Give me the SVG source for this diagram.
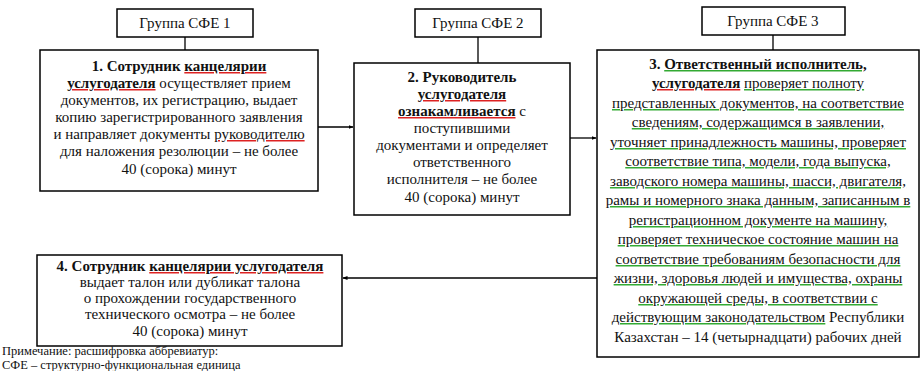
<svg xmlns="http://www.w3.org/2000/svg" width="923" height="371" viewBox="0 0 923 371">
<defs>
<marker id="ah" viewBox="0 0 10 10" refX="9" refY="5" markerWidth="5" markerHeight="5" orient="auto-start-reverse" markerUnits="userSpaceOnUse">
<path d="M0,1 L10,5 L0,9 z" fill="#000"/>
</marker>
<style>
.box{fill:#fff;stroke:#000;stroke-width:1.5}
.t{font-family:"Liberation Serif","Tinos","DejaVu Serif",serif;font-size:15px;fill:#111;text-anchor:middle}
.b{font-weight:bold}
.r{text-decoration:underline;text-decoration-style:wavy;fill:#d22}
.g{text-decoration:underline;text-decoration-style:wavy;fill:#3a3}
.k{fill:#111}
.n{font-family:"Liberation Serif","Tinos","DejaVu Serif",serif;font-size:12.5px;fill:#111}
.c{stroke:#000;stroke-width:1.3;fill:none}
</style>
</defs>
<rect width="923" height="371" fill="#fff"/>
<g id="connectors">
<line class="c" x1="185" y1="37" x2="185" y2="50"/>
<line class="c" x1="478" y1="37" x2="478" y2="63"/>
<line class="c" x1="773" y1="35" x2="773" y2="50"/>
<line class="c" x1="318" y1="127" x2="353" y2="127" marker-end="url(#ah)"/>
<line class="c" x1="570" y1="138" x2="596" y2="138" marker-end="url(#ah)"/>
<line class="c" x1="597" y1="278" x2="343" y2="278" marker-end="url(#ah)"/>
</g>
<g id="group1">
<rect class="box" x="117" y="9" width="136" height="28"/>
<text class="t" x="185" y="28">Группа СФЕ 1</text>
</g>
<g id="group2">
<rect class="box" x="415" y="9" width="126" height="28"/>
<text class="t" x="478" y="28">Группа СФЕ 2</text>
</g>
<g id="group3">
<rect class="box" x="702" y="7" width="143" height="28"/>
<text class="t" x="773" y="26">Группа СФЕ 3</text>
</g>
<g id="node1">
<rect class="box" x="40" y="50" width="278" height="141"/>
<text class="t" x="179" y="71"><tspan class="b">1. Сотрудник </tspan><tspan class="b r"><tspan class="k">канцелярии</tspan></tspan></text>
<text class="t" x="179" y="88"><tspan class="b r"><tspan class="k">услугодателя</tspan></tspan> осуществляет прием</text>
<text class="t" x="179" y="105">документов, их регистрацию, выдает</text>
<text class="t" x="179" y="122">копию зарегистрированного заявления</text>
<text class="t" x="179" y="139">и направляет документы <tspan class="r"><tspan class="k">руководителю</tspan></tspan></text>
<text class="t" x="179" y="156">для наложения резолюции – не более</text>
<text class="t" x="179" y="174">40 (сорока) минут</text>
</g>
<g id="node2">
<rect class="box" x="354" y="63" width="216" height="152"/>
<text class="t b" x="462" y="82">2. Руководитель</text>
<text class="t" x="462" y="99"><tspan class="b r"><tspan class="k">услугодателя</tspan></tspan></text>
<text class="t" x="462" y="116"><tspan class="b r"><tspan class="k">ознакамливается</tspan></tspan> с</text>
<text class="t" x="462" y="133">поступившими</text>
<text class="t" x="462" y="150">документами и определяет</text>
<text class="t" x="462" y="167">ответственного</text>
<text class="t" x="462" y="184">исполнителя – не более</text>
<text class="t" x="462" y="202">40 (сорока) минут</text>
</g>
<g id="node3">
<rect class="box" x="597" y="50" width="322" height="307"/>
<text class="t b" x="758" y="69">3.  <tspan class="g"><tspan class="k">Ответственный исполнитель,</tspan></tspan></text>
<text class="t" x="758" y="88"><tspan class="b r"><tspan class="k">услугодателя</tspan></tspan> <tspan class="g"><tspan class="k">проверяет полноту</tspan></tspan></text>
<text class="t" x="758" y="108"><tspan class="g"><tspan class="k">представленных документов, на соответствие</tspan></tspan></text>
<text class="t" x="758" y="127"><tspan class="g"><tspan class="k">сведениям, содержащимся в заявлении,</tspan></tspan></text>
<text class="t" x="758" y="147"><tspan class="g"><tspan class="k">уточняет принадлежность машины, проверяет</tspan></tspan></text>
<text class="t" x="758" y="166"><tspan class="g"><tspan class="k">соответствие типа, модели, года выпуска,</tspan></tspan></text>
<text class="t" x="758" y="186"><tspan class="g"><tspan class="k">заводского номера машины, шасси, двигателя,</tspan></tspan></text>
<text class="t" x="758" y="205"><tspan class="g"><tspan class="k">рамы и номерного знака данным, записанным в</tspan></tspan></text>
<text class="t" x="758" y="225"><tspan class="g"><tspan class="k">регистрационном документе на машину,</tspan></tspan></text>
<text class="t" x="758" y="244"><tspan class="g"><tspan class="k">проверяет техническое состояние машин на</tspan></tspan></text>
<text class="t" x="758" y="264"><tspan class="g"><tspan class="k">соответствие требованиям безопасности для</tspan></tspan></text>
<text class="t" x="758" y="283"><tspan class="g"><tspan class="k">жизни, здоровья людей и имущества, охраны</tspan></tspan></text>
<text class="t" x="758" y="303"><tspan class="g"><tspan class="k">окружающей среды, в соответствии с</tspan></tspan></text>
<text class="t" x="758" y="322"><tspan class="g"><tspan class="k">действующим законодательством</tspan></tspan> Республики</text>
<text class="t" x="758" y="342">Казахстан – 14 (четырнадцати) рабочих дней</text>
</g>
<g id="node4">
<rect class="box" x="37" y="255" width="305" height="91"/>
<text class="t" x="190" y="271"><tspan class="b">4. Сотрудник </tspan><tspan class="b r"><tspan class="k">канцелярии услугодателя</tspan></tspan></text>
<text class="t" x="190" y="287">выдает талон или дубликат талона</text>
<text class="t" x="190" y="303">о прохождении государственного</text>
<text class="t" x="190" y="319">технического осмотра – не более</text>
<text class="t" x="190" y="336">40 (сорока) минут</text>
</g>
<g id="note">
<text class="n" x="2" y="355">Примечание: расшифровка аббревиатур:</text>
<text class="n" x="2" y="369">СФЕ – структурно-функциональная единица</text>
</g>
</svg>
